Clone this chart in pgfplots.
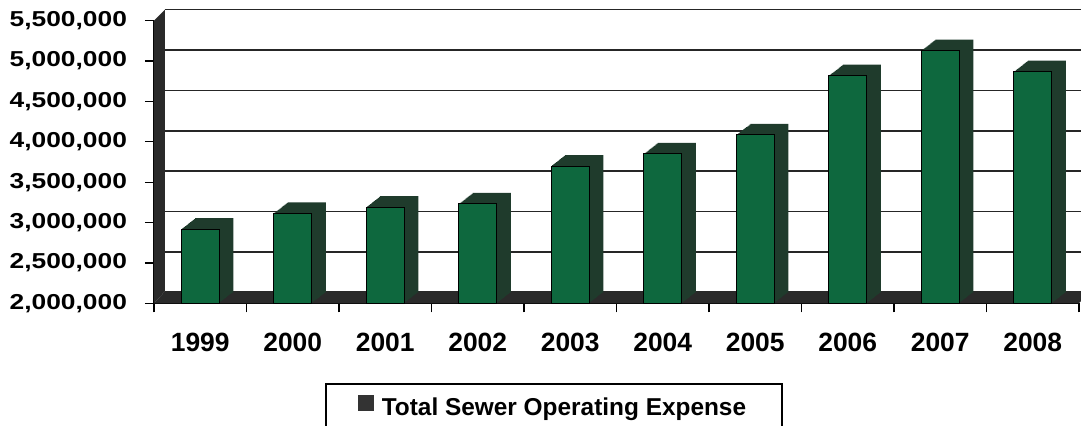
\documentclass[border=0pt]{standalone}
\usepackage{fontspec}
\setmainfont{Liberation Sans}
\newfontfamily\widefont[FakeStretch=1.22]{Liberation Sans}
\usepackage{pgfplots}
\pgfplotsset{compat=1.18}
\usepackage{pgfplotstable}

\definecolor{barfront}{HTML}{0E683E}
\definecolor{barside}{HTML}{1F3B2C}
\definecolor{wall}{HTML}{2A2A2A}

\pgfplotstableread{
idx year value
0 1999 2917000
1 2000 3115000
2 2001 3190000
3 2002 3230000
4 2003 3700000
5 2004 3850000
6 2005 4085000
7 2006 4820000
8 2007 5130000
9 2008 4870000
}\expenses

\begin{document}
\begin{tikzpicture}
\path[use as bounding box] (0pt,0pt) rectangle (540.5pt,213pt);
\begin{axis}[
  at={(77pt,61.35pt)}, anchor=south west,
  width=462.5pt, height=141.3pt, scale only axis,
  xmin=-0.5, xmax=9.5, ymin=2000000, ymax=5500000,
  clip=false,
  axis x line*=bottom, axis y line*=left,
  axis line style={black, line width=0.6pt},
  ytick={2000000,2500000,...,5500000},
  scaled y ticks=false,
  /pgf/number format/assume math mode=true,
  yticklabel style={font=\widefont\bfseries\fontsize{10.8}{12}\selectfont,
    xshift=-5.5pt,
    /pgf/number format/fixed, /pgf/number format/1000 sep={,}},
  xtick={0,...,9},
  xticklabels={1999,2000,2001,2002,2003,2004,2005,2006,2007,2008},
  xticklabel style={font=\bfseries\fontsize{13.2}{15}\selectfont, yshift=-7pt},
  major x tick style={draw=none},
  minor xtick={-0.5,0.5,...,9.5},
  minor x tick style={black, line width=0.6pt},
  tick align=outside,
  major tick length=4.5pt, minor tick length=4.5pt,
  tick style={black, line width=0.6pt},
  ymajorgrids,
  major grid style={black!85, line width=0.8pt, xshift=5.5pt, yshift=5.5pt},
  legend style={at={(rel axis cs:0.1849,-0.282)}, anchor=north west,
    draw=black, line width=0.8pt, inner xsep=16pt, inner ysep=4.8pt,
    font=\bfseries\fontsize{12.2}{14}\selectfont},
]
% floor and left wall
\fill[wall] (axis cs:-0.5,2000000) -- (axis cs:9.5,2000000)
  -- ([shift={(5.5pt,6pt)}]axis cs:9.5,2000000)
  -- ([shift={(5.5pt,6pt)}]axis cs:-0.5,2000000) -- cycle;
\fill[wall] (axis cs:-0.5,2000000) -- ([shift={(5.5pt,6pt)}]axis cs:-0.5,2000000)
  -- ([shift={(5.5pt,5.5pt)}]axis cs:-0.5,5500000)
  -- (axis cs:-0.5,5500000) -- cycle;
% depth of the columns
\pgfplotsinvokeforeach{14,13,...,1}{
  \addplot[ybar, bar width=19pt, xshift=#1*0.5pt, yshift=#1*0.393pt,
    fill=barside, draw=none, forget plot]
    table[x=idx, y=value] {\expenses};
}
% front faces
\addplot[ybar, bar width=19pt, fill=barfront, draw=black, line width=0.5pt,
  legend image code/.code={\fill[black!80] (0pt,-1.2pt) rectangle (7.5pt,6.3pt);
    \path (9.5pt,0pt);}]
  table[x=idx, y=value] {\expenses};
\addlegendentry{Total Sewer Operating Expense}
\end{axis}
\end{tikzpicture}
\end{document}
